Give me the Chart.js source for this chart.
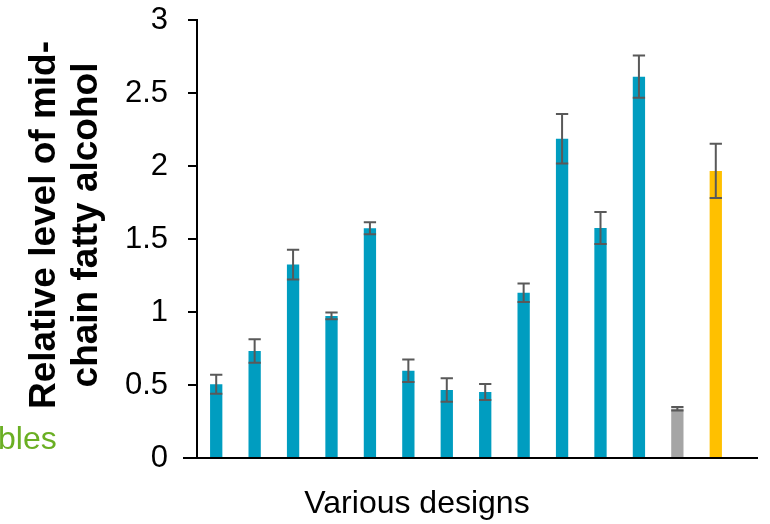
<!DOCTYPE html>
<html>
<head>
<meta charset="utf-8">
<script src="https://cdn.jsdelivr.net/npm/chart.js@4"></script>
<style>
  html, body { margin: 0; padding: 0; background: #ffffff; }
  #wrap { width: 770px; height: 524px; position: relative; }
</style>
</head>
<body>
<div id="wrap"><canvas id="c" width="770" height="524"></canvas></div>
<script>
// ---- data ----
const categories = ["D1","D2","D3","D4","D5","D6","D7","D8","D9","D10","D11","D12","Control","Reference"];
const values = [0.505, 0.733, 1.325, 0.973, 1.573, 0.598, 0.466, 0.452, 1.132, 2.187, 1.575, 2.612, 0.338, 1.966];
const errors = [0.065, 0.080, 0.102, 0.023, 0.041, 0.077, 0.081, 0.055, 0.064, 0.170, 0.110, 0.145, 0.012, 0.186];
const barColors = ["#009DC0","#009DC0","#009DC0","#009DC0","#009DC0","#009DC0","#009DC0","#009DC0","#009DC0","#009DC0","#009DC0","#009DC0","#A5A5A5","#FFC000"];
const yTicks = [0, 0.5, 1, 1.5, 2, 2.5, 3];
const yTitleLines = ["Relative level of mid-", "chain fatty alcohol"];
const xTitle = "Various designs";
const sideLabel = "bles";

const FONT = "'Liberation Sans', Arial, sans-serif";

const errorBarPlugin = {
  id: 'errorBars',
  afterDatasetsDraw(chart) {
    const ctx = chart.ctx;
    const meta = chart.getDatasetMeta(0);
    const y = chart.scales.y;
    ctx.save();
    ctx.strokeStyle = '#595959';
    ctx.lineWidth = 2;
    meta.data.forEach((bar, i) => {
      const x = bar.x;
      const half = bar.width / 2;
      const top = y.getPixelForValue(values[i] + errors[i]);
      const bot = y.getPixelForValue(values[i] - errors[i]);
      ctx.beginPath();
      ctx.moveTo(x, top); ctx.lineTo(x, bot);
      ctx.moveTo(x - half, top); ctx.lineTo(x + half, top);
      ctx.moveTo(x - half, bot); ctx.lineTo(x + half, bot);
      ctx.stroke();
    });
    ctx.restore();
  }
};

const decorPlugin = {
  id: 'decor',
  afterDraw(chart) {
    const ctx = chart.ctx;
    const a = chart.chartArea;
    const y = chart.scales.y;
    ctx.save();
    // x axis line (extends past the plot like the original)
    ctx.strokeStyle = '#000000';
    ctx.lineWidth = 2.2;
    const y0 = y.getPixelForValue(0);
    ctx.beginPath();
    ctx.moveTo(a.left - 14, y0);
    ctx.lineTo(a.right + 23, y0);
    ctx.stroke();
    // y title, rotated, two lines
    ctx.fillStyle = '#000000';
    ctx.font = "bold 37px " + FONT;
    ctx.textAlign = 'center';
    ctx.textBaseline = 'alphabetic';
    ctx.translate(55, 225);
    ctx.rotate(-Math.PI / 2);
    ctx.fillText(yTitleLines[0], 0, 0);
    ctx.fillText(yTitleLines[1], 0, 42);
    ctx.restore();
    // x title
    ctx.save();
    ctx.fillStyle = '#000000';
    ctx.font = "32px " + FONT;
    ctx.textAlign = 'center';
    ctx.textBaseline = 'alphabetic';
    ctx.fillText(xTitle, 417, 513);
    // side green label
    ctx.fillStyle = '#6AAF23';
    ctx.font = "32px " + FONT;
    ctx.textAlign = 'left';
    ctx.fillText(sideLabel, -2, 449);
    ctx.restore();
  }
};

new Chart(document.getElementById('c'), {
  type: 'bar',
  data: {
    labels: categories,
    datasets: [{
      data: values,
      backgroundColor: barColors,
      borderWidth: 0,
      barPercentage: 0.32,
      categoryPercentage: 1.0
    }]
  },
  options: {
    responsive: false,
    animation: false,
    devicePixelRatio: 1,
    layout: { padding: { left: 0, top: 20, right: 35, bottom: 66 } },
    plugins: { legend: { display: false }, tooltip: { enabled: false } },
    scales: {
      x: { display: false },
      y: {
        min: 0, max: 3,
        afterFit: (s) => { s.width = 197; s.paddingTop = 0; s.paddingBottom = 0; },
        afterBuildTicks: (s) => { s.ticks = yTicks.map(v => ({ value: v })); },
        ticks: {
          color: '#000000',
          font: { family: FONT, size: 31 },
          padding: 20,
          callback: (v) => String(v)
        },
        grid: { drawOnChartArea: false, color: '#000000', lineWidth: 2, tickLength: 9 },
        border: { display: true, color: '#000000', width: 2 }
      }
    }
  },
  plugins: [errorBarPlugin, decorPlugin]
});
</script>
</body>
</html>
